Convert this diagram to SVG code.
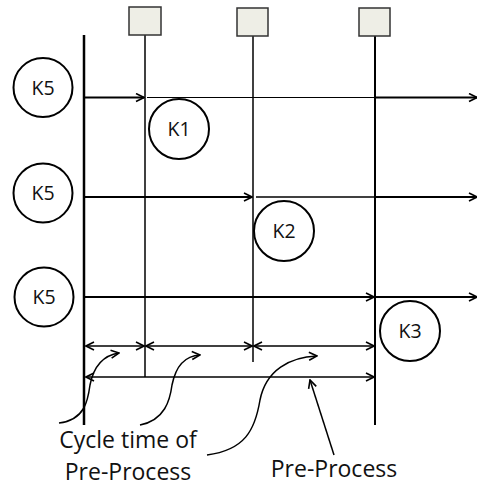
<svg xmlns="http://www.w3.org/2000/svg" width="477" height="488" viewBox="0 0 477 488">
<defs>
<marker id="ah" viewBox="0 0 10 10" refX="9" refY="5" markerWidth="10" markerHeight="10" markerUnits="userSpaceOnUse" orient="auto-start-reverse">
<path d="M1,1 L9,5 L1,9" fill="none" stroke="#000" stroke-width="1.6"/>
</marker>
</defs>
<style>
.ln{stroke:#000;fill:none}
.c{fill:#fff;stroke:#000;stroke-width:2}
.box{fill:#eeeee6;stroke:#333;stroke-width:1.5}
.t{font-family:"Open Sans","Liberation Sans",sans-serif;font-size:19.5px;fill:#111;text-anchor:middle}
.lb{font-family:"Open Sans","Liberation Sans",sans-serif;font-size:23px;fill:#111;text-anchor:middle}
</style>
<g id="connectors">
<line class="ln" x1="84" y1="35" x2="84" y2="425" stroke-width="2.5"/>
<line class="ln" x1="145" y1="35" x2="145" y2="377" stroke-width="1.5"/>
<line class="ln" x1="253" y1="36" x2="253" y2="362" stroke-width="1.5"/>
<line class="ln" x1="375" y1="36" x2="375" y2="425" stroke-width="2"/>
<line class="ln" x1="84" y1="97.5" x2="144" y2="97.5" stroke-width="2" marker-end="url(#ah)"/>
<line class="ln" x1="147" y1="97.5" x2="375" y2="97.5" stroke-width="1.2"/>
<line class="ln" x1="375" y1="97.5" x2="477" y2="97.5" stroke-width="2" marker-end="url(#ah)"/>
<line class="ln" x1="84" y1="197" x2="252" y2="197" stroke-width="2" marker-end="url(#ah)"/>
<line class="ln" x1="256" y1="197" x2="375" y2="197" stroke-width="1.5"/>
<line class="ln" x1="375" y1="197" x2="477" y2="197" stroke-width="2" marker-end="url(#ah)"/>
<line class="ln" x1="84" y1="297" x2="374" y2="297" stroke-width="2" marker-end="url(#ah)"/>
<line class="ln" x1="376" y1="297" x2="477" y2="297" stroke-width="2" marker-end="url(#ah)"/>
<line class="ln" x1="86" y1="346" x2="144" y2="346" stroke-width="1.6" marker-start="url(#ah)" marker-end="url(#ah)"/>
<line class="ln" x1="146" y1="346" x2="252" y2="346" stroke-width="1.6" marker-start="url(#ah)" marker-end="url(#ah)"/>
<line class="ln" x1="254" y1="346" x2="374" y2="346" stroke-width="1.6" marker-start="url(#ah)" marker-end="url(#ah)"/>
<line class="ln" x1="86" y1="377" x2="374" y2="377" stroke-width="1.6" marker-start="url(#ah)" marker-end="url(#ah)"/>
<path class="ln" stroke-width="1.5" d="M59,423 C85,420 88,400 90,385 C94,365 105,355 119,353" marker-end="url(#ah)"/>
<path class="ln" stroke-width="1.5" d="M140,425 C165,420 170,400 172,385 C176,365 185,356 200,355" marker-end="url(#ah)"/>
<path class="ln" stroke-width="1.5" d="M207,455 C245,450 255,430 260,400 C266,370 290,357 317,356" marker-end="url(#ah)"/>
<line class="ln" x1="334" y1="455" x2="310" y2="380" stroke-width="1.5" marker-end="url(#ah)"/>
</g>
<g id="box1"><rect class="box" x="129" y="7" width="32" height="28"/></g>
<g id="box2"><rect class="box" x="237" y="8" width="31" height="28"/></g>
<g id="box3"><rect class="box" x="359" y="8" width="31" height="28"/></g>
<g id="k5a"><circle class="c" cx="43" cy="87.5" r="29.5"/><text class="t" x="43" y="94.5">K5</text></g>
<g id="k5b"><circle class="c" cx="43" cy="193" r="29.5"/><text class="t" x="43" y="200">K5</text></g>
<g id="k5c"><circle class="c" cx="44" cy="297" r="29.5"/><text class="t" x="44" y="304">K5</text></g>
<g id="k1"><circle class="c" cx="179" cy="129" r="30"/><text class="t" x="179" y="136">K1</text></g>
<g id="k2"><circle class="c" cx="284" cy="231" r="30"/><text class="t" x="284" y="238">K2</text></g>
<g id="k3"><circle class="c" cx="410" cy="331" r="30"/><text class="t" x="410" y="338">K3</text></g>
<g id="labels">
<text class="lb" x="128" y="448">Cycle time of</text>
<text class="lb" x="128" y="480">Pre-Process</text>
<text class="lb" x="334" y="477">Pre-Process</text>
</g>
</svg>
